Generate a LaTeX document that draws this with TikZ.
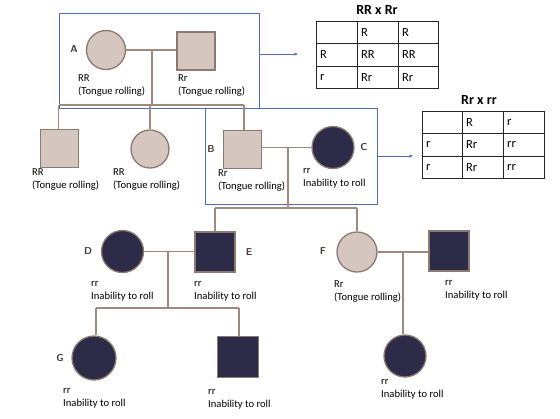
\documentclass[tikz,border=0pt]{standalone}
\usepackage{fontspec}
\setmainfont{Carlito}
\usetikzlibrary{arrows.meta}
\definecolor{lightf}{HTML}{D6C6C0}
\definecolor{darkf}{HTML}{2C2B48}
\definecolor{edgec}{HTML}{8C7A70}
\definecolor{linec}{HTML}{9E8A7E}
\definecolor{boxc}{HTML}{4F6DB0}
\definecolor{letterc}{HTML}{4A3C34}
\tikzset{
  fem/.style={circle,draw=edgec,line width=1.3pt,minimum size=#1,inner sep=0pt},
  mal/.style={rectangle,draw=edgec,line width=1.3pt,minimum size=#1,inner sep=0pt},
  lite/.style={fill=lightf},
  dark/.style={fill=darkf},
  ped/.style={draw=linec,line width=1.6pt},
  lbl/.style={anchor=north west,align=left,inner sep=0pt,font=\fontsize{10.6}{13}\selectfont},
  letter/.style={font=\sffamily\bfseries\fontsize{10}{12}\selectfont,text=letterc,inner sep=0pt},
  bluebox/.style={draw=boxc,line width=0.8pt},
  bluearrow/.style={draw=boxc,line width=0.8pt,-{Stealth[length=4pt,width=3pt]}},
  cell/.style={anchor=west,inner sep=0pt,font=\fontsize{12.5}{14}\selectfont},
  ttl/.style={inner sep=0pt,font=\bfseries\fontsize{14}{16}\selectfont}
}
\begin{document}
\begin{tikzpicture}[x=1pt,y=-1pt]
\useasboundingbox[fill=white] (0,0) rectangle (560,418);
% boxes
\node[bluebox,minimum width=200pt,minimum height=95pt,inner sep=0pt] (boxA) at (159,60.5) {};
\node[bluebox,minimum width=172pt,minimum height=96pt,inner sep=0pt] (boxB) at (291,156) {};
% generation I
\node[fem=39pt,lite] (A1) at (106,50) {};
\node[mal=38pt,lite] (A2) at (196,51) {};
\node[letter] (LA) at (74,49) {A};
\coordinate (Am) at (152,50);
\draw[ped] (A1.east) -- (A2.west |- A1.east);
\coordinate (As) at (152,105);
\draw[ped] (Am) -- (As);
\coordinate (AsL) at (58.5,105);
\coordinate (AsR) at (244,105);
\draw[ped] (AsL) -- (AsR);
\node[lbl] at (78,74) {RR\\(Tongue rolling)};
\node[lbl] at (178,74) {Rr\\(Tongue rolling)};
% generation II
\node[mal=38pt,lite] (S1) at (59.5,148.5) {};
\node[fem=38pt,lite] (S2) at (150,149) {};
\node[mal=38pt,lite] (B) at (242.5,149.5) {};
\node[fem=42pt,dark] (C) at (333,147.5) {};
\node[letter] (LB) at (211,149) {B};
\node[letter] (LC) at (364,147) {C};
\draw[ped] (AsL) -- (S1.north -| AsL);
\draw[ped] (S2.north |- As) -- (S2.north);
\draw[ped] (AsR) -- (AsR |- B.north);
\draw[ped] (B.east |- C.west) -- (C.west);
\coordinate (Bm) at (288,147.5);
\coordinate (Bs) at (288,208);
\draw[ped] (Bm) -- (Bs);
\coordinate (BsL) at (215,208);
\coordinate (BsR) at (357,208);
\draw[ped] (BsL) -- (BsR);
\node[lbl] at (32,168) {RR\\(Tongue rolling)};
\node[lbl] at (113,168) {RR\\(Tongue rolling)};
\node[lbl] at (218,169) {Rr\\(Tongue rolling)};
\node[lbl] at (303,168) {rr\\Inability to roll};
% generation III
\node[fem=42pt,dark] (D) at (122.5,251.5) {};
\node[mal=40pt,dark] (E) at (215,252) {};
\node[fem=40pt,lite] (F) at (357,252) {};
\node[mal=40pt,dark] (F2) at (449,251) {};
\node[letter] (LD) at (88,251) {D};
\node[letter] (LE) at (249,252) {E};
\node[letter] (LF) at (323,251) {F};
\draw[ped] (BsL) -- (E.north);
\draw[ped] (BsR) -- (F.north);
\draw[ped] (D.east) -- (E.west |- D.east);
\draw[ped] (F.east) -- (F2.west |- F.east);
\coordinate (Dm) at (168,252);
\coordinate (Ds) at (168,308);
\draw[ped] (Dm) -- (Ds);
\coordinate (DsL) at (96,308);
\coordinate (DsR) at (239,308);
\draw[ped] (DsL) -- (DsR);
\coordinate (Fm) at (403,252);
\node[lbl] at (91,281) {rr\\Inability to roll};
\node[lbl] at (194,281) {rr\\Inability to roll};
\node[lbl] at (334,280) {Rr\\(Tongue rolling)};
\node[lbl] at (445,280) {rr\\Inability to roll};
% generation IV
\node[fem=44pt,dark] (G) at (94,358) {};
\node[mal=41pt,dark] (H) at (238,357) {};
\node[fem=42pt,dark] (I) at (405,356) {};
\node[letter] (LG) at (60,358) {G};
\draw[ped] (DsL) -- (DsL |- G.north);
\draw[ped] (DsR) -- (DsR |- H.north);
\draw[ped] (Fm) -- (Fm |- I.north);
\node[lbl] at (63,388) {rr\\Inability to roll};
\node[lbl] at (208,389) {rr\\Inability to roll};
\node[lbl] at (381,379) {rr\\Inability to roll};
% arrows
\coordinate (ar1) at (298,54);
\draw[bluearrow] (boxA.east |- ar1) -- (ar1);
\coordinate (ar2) at (413,156);
\draw[bluearrow] (boxB.east |- ar2) -- (ar2);
% table 1
\node[ttl] (T1) at (377,10) {RR x Rr};
\draw[line width=0.8pt,draw=black!85] (316,21) rectangle (438,88);
\foreach \xx in {357,398} \draw[line width=0.8pt,draw=black!85] (\xx,21) -- (\xx,88);
\foreach \yy in {43,66} \draw[line width=0.8pt,draw=black!85] (316,\yy) -- (438,\yy);
\node[cell] (t1a) at (361,32) {R};
\node[cell] (t1b) at (402,32) {R};
\node[cell] (t1c) at (320,54.5) {R};
\node[cell] (t1d) at (361,54.5) {RR};
\node[cell] (t1e) at (402,54.5) {RR};
\node[cell] (t1f) at (320,77) {r};
\node[cell] (t1g) at (361,77) {Rr};
\node[cell] (t1h) at (402,77) {Rr};
% table 2
\node[ttl] (T2) at (479,100) {Rr x rr};
\draw[line width=0.8pt,draw=black!85] (422,111) rectangle (544,178);
\foreach \xx in {462,503} \draw[line width=0.8pt,draw=black!85] (\xx,111) -- (\xx,178);
\foreach \yy in {133,156} \draw[line width=0.8pt,draw=black!85] (422,\yy) -- (544,\yy);
\node[cell] (t2a) at (466,122) {R};
\node[cell] (t2b) at (507,122) {r};
\node[cell] (t2c) at (426,144.5) {r};
\node[cell] (t2d) at (466,144.5) {Rr};
\node[cell] (t2e) at (507,144.5) {rr};
\node[cell] (t2f) at (426,167) {r};
\node[cell] (t2g) at (466,167) {Rr};
\node[cell] (t2h) at (507,167) {rr};
\end{tikzpicture}
\end{document}
